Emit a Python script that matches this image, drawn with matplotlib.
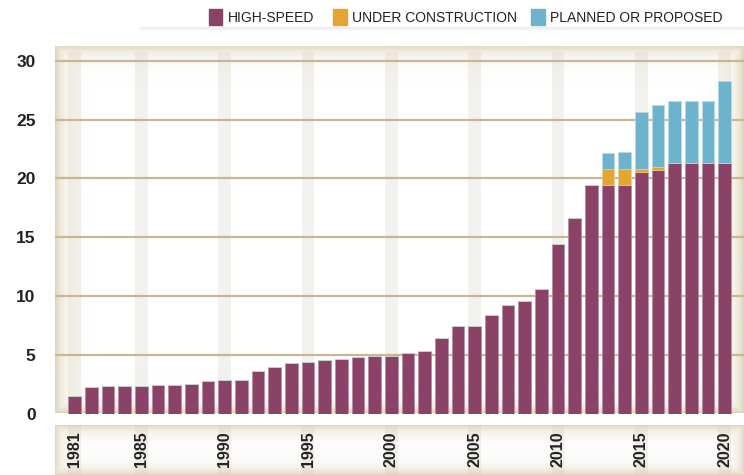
import numpy as np
import matplotlib
matplotlib.use("Agg")
from matplotlib import pyplot as plt
from matplotlib.patches import Rectangle

years = list(range(1981, 2021))
high_speed = [1.53, 2.27, 2.33, 2.36, 2.36, 2.41, 2.44, 2.47, 2.75, 2.81,
              2.87, 3.58, 3.92, 4.29, 4.41, 4.52, 4.63, 4.80, 4.86, 4.86,
              5.11, 5.28, 6.45, 7.42, 7.45, 8.41, 9.23, 9.61, 10.63, 14.43,
              16.60, 19.44, 19.44, 19.44, 20.52, 20.74, 21.29, 21.29, 21.29, 21.29]
under_construction = [0] * 32 + [1.39, 1.39, 0.31, 0.26, 0, 0, 0, 0]
planned = [0] * 32 + [1.36, 1.45, 4.83, 5.23, 5.33, 5.33, 5.33, 7.01]
stripe_years = [1981, 1985, 1990, 1995, 2000, 2005, 2010, 2015, 2020]
yticks = [0, 5, 10, 15, 20, 25, 30]

c_hs = "#8a4266"
c_uc = "#e3a633"
c_pl = "#6db3cd"
grid_c = "#c9b792"
stripe_c = "#f3f1ed"
shade_c = np.array([0.85, 0.79, 0.67])

plt.rcParams["font.family"] = ["Liberation Sans", "DejaVu Sans"]

W, H = 744, 475
fig = plt.figure(figsize=(W / 100, H / 100), dpi=100)

x0, x1 = 1979.82, 2021.15


def vignette(ax, w_px, h_px, width=9.0, strength=0.75):
    # soft beige inner shadow along the panel edges
    xs = np.arange(w_px)[None, :]
    ys = np.arange(h_px)[:, None]
    d = np.minimum(np.minimum(xs, w_px - 1 - xs), np.minimum(ys, h_px - 1 - ys))
    a = strength * np.exp(-d / width)
    img = np.ones((h_px, w_px, 4))
    img[..., :3] = shade_c
    img[..., 3] = a
    ax.imshow(img, extent=(0, 1, 0, 1), transform=ax.transAxes, aspect="auto",
              zorder=0.5, interpolation="bilinear")


# main panel
ax = fig.add_axes([55 / W, (H - 413.5) / H, 1 - 55 / W, (413.5 - 45.7) / H])
for s in ax.spines.values():
    s.set_visible(False)
vignette(ax, W - 55, int(413.5 - 45.7), width=8.0, strength=0.8)
ax.set_xlim(x0, x1)
ax.set_ylim(0, 31.3)

for y in stripe_years:
    ax.add_patch(Rectangle((y - 0.38, 0), 0.76, 30.8, color=stripe_c, zorder=0.3, lw=0))

for t in yticks[1:]:
    ax.axhline(t, color=grid_c, lw=1.6, zorder=1)

hs = np.array(high_speed)
uc = np.array(under_construction)
pl = np.array(planned)
ax.bar(years, hs, width=0.76, color=c_hs, edgecolor="#b98aa2", lw=0.5, zorder=2)
ax.bar(years, uc, width=0.76, bottom=hs, color=c_uc, edgecolor="#f0cf90", lw=0.5, zorder=2)
ax.bar(years, pl, width=0.76, bottom=hs + uc, color=c_pl, edgecolor="#b5dbe8", lw=0.5, zorder=2)

ax.set_xticks([])
ax.set_yticks(yticks)
ax.set_yticklabels([str(t) for t in yticks], fontsize=12.5, fontweight="bold", color="#222222")
ax.tick_params(axis="y", length=0, pad=14)

# lower label panel
ax2 = fig.add_axes([55 / W, 0, 1 - 55 / W, (H - 425) / H])
for s in ax2.spines.values():
    s.set_visible(False)
vignette(ax2, W - 55, H - 425, width=7.0, strength=0.7)
ax2.set_xlim(x0, x1)
ax2.set_ylim(0, 1)
ax2.set_xticks([])
ax2.set_yticks([])
for y in stripe_years:
    ax2.add_patch(Rectangle((y - 0.38, 0), 0.76, 1, color=stripe_c, zorder=0.3, lw=0))
    ax2.text(y, 0.87, str(y), rotation=90, ha="center", va="top", fontsize=11.5,
             fontweight="bold", color="#222222", zorder=3)

# legend
legend_items = [("HIGH-SPEED", c_hs, 209), ("UNDER CONSTRUCTION", c_uc, 333),
                ("PLANNED OR PROPOSED", c_pl, 531)]
for label, col, px in legend_items:
    fig.patches.append(Rectangle((px / W, (H - 25.3) / H), 13.5 / W, 16 / H,
                                 transform=fig.transFigure, color=col))
    fig.text((px + 19) / W, (H - 17.5) / H, label, fontsize=10, va="center",
             ha="left", color="#222222")

# faint shadow under the legend
for i, a in enumerate([0.12, 0.08, 0.05, 0.025]):
    fig.add_artist(plt.Line2D([140 / W, 1], [(H - 27 - i) / H] * 2,
                              transform=fig.transFigure, color="#888888", alpha=a, lw=1))

fig.savefig("out.png", dpi=100)
